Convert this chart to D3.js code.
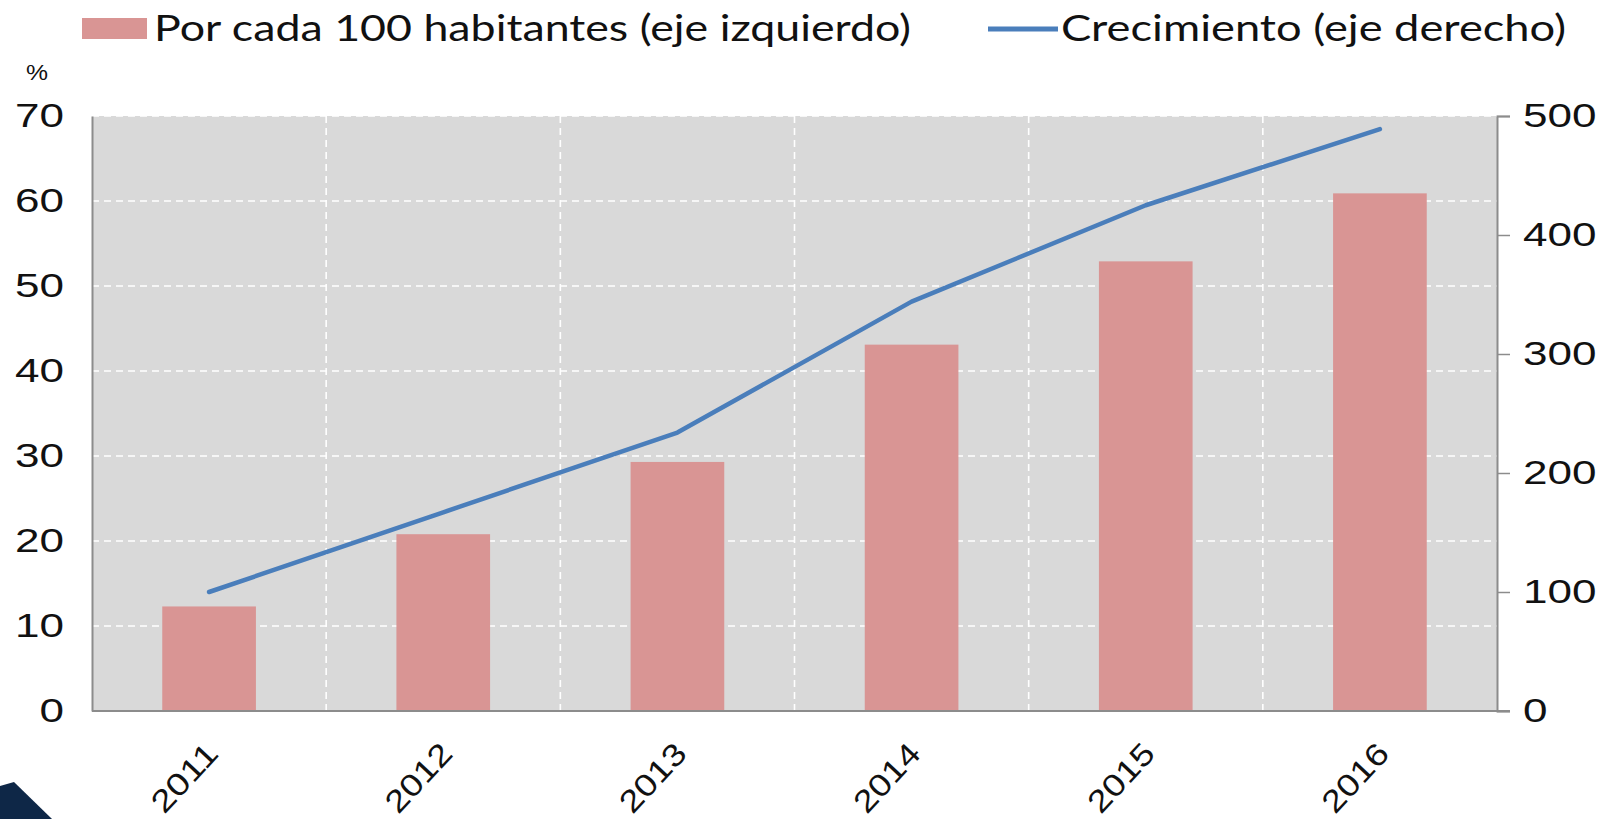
<!DOCTYPE html>
<html>
<head>
<meta charset="utf-8">
<script src="https://cdn.jsdelivr.net/npm/d3@7"></script>
<style>
  html, body { margin: 0; padding: 0; background: #fff; }
  svg { display: block; }
</style>
</head>
<body>
<svg id="chart" width="1610" height="819"></svg>
<script>
// ---- data ----
const years = ["2011", "2012", "2013", "2014", "2015", "2016"];
const per100 = [12.3, 20.8, 29.3, 43.1, 52.9, 60.9];      // left axis (%)
const growth = [100, 167, 234, 344, 425, 489];            // right axis
const leftTicks = [0, 10, 20, 30, 40, 50, 60, 70];
const rightTicks = [0, 100, 200, 300, 400, 500];
const legendLabels = ["Por cada 100 habitantes (eje izquierdo)", "Crecimiento (eje derecho)"];

// ---- layout ----
const svg = d3.select("#chart");
const L = 92, R = 1497, T = 116, B = 711;
const barColor = "#d99594", lineColor = "#4a7ebb", plotBg = "#d9d9d9", axisGrey = "#8c8c8c";

const x = d3.scaleBand().domain(years).range([L, R]).paddingInner(0.6).paddingOuter(0.3);
const yL = d3.scaleLinear().domain([0, 70]).range([B, T]);
const yR = d3.scaleLinear().domain([0, 500]).range([B, T]);

// plot background
svg.append("rect").attr("x", L).attr("y", T).attr("width", R - L).attr("height", B - T).attr("fill", plotBg);

// horizontal grid
svg.append("g").selectAll("line").data(leftTicks.filter(d => d > 0)).join("line")
  .attr("x1", L).attr("x2", R).attr("y1", d => yL(d)).attr("y2", d => yL(d))
  .attr("stroke", "#ffffff").attr("stroke-width", 1.6).attr("stroke-dasharray", "7,5");

// vertical grid at band boundaries
const step = x.step();
const bounds = years.slice(1).map((d, i) => x(d) - x.paddingInner() * step / 2);
svg.append("g").selectAll("line").data(bounds).join("line")
  .attr("x1", d => d).attr("x2", d => d).attr("y1", T).attr("y2", B)
  .attr("stroke", "#ffffff").attr("stroke-width", 1.6).attr("stroke-dasharray", "7,5");

// bars
svg.append("g").selectAll("rect").data(years).join("rect")
  .attr("x", d => x(d)).attr("width", x.bandwidth())
  .attr("y", (d, i) => yL(per100[i])).attr("height", (d, i) => B - yL(per100[i]))
  .attr("fill", barColor);

// line
const line = d3.line().x((d, i) => x(years[i]) + x.bandwidth() / 2).y(d => yR(d));
svg.append("path").datum(growth).attr("d", line)
  .attr("fill", "none").attr("stroke", lineColor).attr("stroke-width", 4.5)
  .attr("stroke-linejoin", "round").attr("stroke-linecap", "round");

// left axis
const gL = svg.append("g").attr("transform", `translate(${L},0)`)
  .call(d3.axisLeft(yL).tickValues(leftTicks).tickSize(0).tickPadding(28));
gL.select(".domain").attr("stroke", axisGrey).attr("stroke-width", 2);
gL.selectAll("text").attr("font-family", "Liberation Sans, Arial, sans-serif")
  .attr("font-size", 33).attr("fill", "#111")
  .attr("textLength", d => String(d).length * 24.5).attr("lengthAdjust", "spacingAndGlyphs");

// right axis
const gR = svg.append("g").attr("transform", `translate(${R},0)`)
  .call(d3.axisRight(yR).tickValues(rightTicks).tickSize(13).tickPadding(13));
gR.select(".domain").attr("stroke", axisGrey).attr("stroke-width", 2);
gR.selectAll(".tick line").attr("stroke", axisGrey).attr("stroke-width", 1.5);
gR.selectAll("text").attr("font-family", "Liberation Sans, Arial, sans-serif")
  .attr("font-size", 33).attr("fill", "#111")
  .attr("textLength", d => String(d).length * 24.5).attr("lengthAdjust", "spacingAndGlyphs");

// bottom axis
const gB = svg.append("g").attr("transform", `translate(0,${B})`)
  .call(d3.axisBottom(x).tickSize(0));
gB.select(".domain").attr("d", `M${L},0H${R + 13}`).attr("stroke", axisGrey).attr("stroke-width", 2);
gB.selectAll("text")
  .attr("font-family", "Liberation Sans, Arial, sans-serif").attr("font-size", 31).attr("fill", "#111")
  .attr("text-anchor", "end").attr("x", 0).attr("y", 0).attr("dy", 0)
  .attr("transform", "translate(11,44) rotate(-47)")
  .attr("textLength", 82).attr("lengthAdjust", "spacingAndGlyphs");

// "%" label
svg.append("text").attr("x", 26).attr("y", 80).text("%")
  .attr("font-family", "Liberation Sans, Arial, sans-serif").attr("font-size", 22).attr("fill", "#111")
  .attr("textLength", 22).attr("lengthAdjust", "spacingAndGlyphs");

// legend
const lg = svg.append("g");
lg.append("rect").attr("x", 82).attr("y", 18).attr("width", 65).attr("height", 21).attr("fill", barColor);
lg.append("text").attr("x", 154).attr("y", 41).text(legendLabels[0])
  .attr("font-family", "Lato, 'Open Sans', sans-serif").attr("font-size", 36).attr("fill", "#111")
  .attr("textLength", 757).attr("lengthAdjust", "spacingAndGlyphs");
lg.append("line").attr("x1", 988).attr("x2", 1058).attr("y1", 29).attr("y2", 29)
  .attr("stroke", lineColor).attr("stroke-width", 5);
lg.append("text").attr("x", 1061).attr("y", 41).text(legendLabels[1])
  .attr("font-family", "Lato, 'Open Sans', sans-serif").attr("font-size", 36).attr("fill", "#111")
  .attr("textLength", 505).attr("lengthAdjust", "spacingAndGlyphs");

// decorative corner shape (bottom-left)
svg.append("path").attr("d", "M0,786 L14,782 L52,819 L0,819 Z").attr("fill", "#0e2747");
</script>
</body>
</html>
